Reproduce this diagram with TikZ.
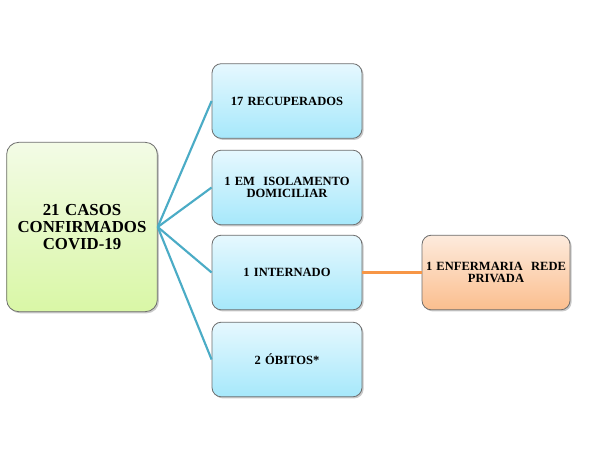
\documentclass[tikz,border=0pt]{standalone}
\usepackage{fontspec}
\setmainfont{Liberation Serif}
\usetikzlibrary{shadows}
\definecolor{bordergray}{HTML}{6E6E6E}
\definecolor{greentop}{HTML}{F3FBE6}
\definecolor{greenbot}{HTML}{D9F7A6}
\definecolor{bluetop}{HTML}{E6F8FE}
\definecolor{bluebot}{HTML}{A6E8FB}
\definecolor{orangetop}{HTML}{FDEBDD}
\definecolor{orangebot}{HTML}{FBBE8E}
\definecolor{tealline}{HTML}{4BACC6}
\definecolor{orangeline}{HTML}{F79646}
\begin{document}
\begin{tikzpicture}[x=0.75pt,y=-0.75pt,
  boxbase/.style={draw=bordergray, line width=0.6pt, rounded corners=7pt, align=center,
    inner sep=1pt,
    drop shadow={shadow xshift=1.2pt, shadow yshift=-1.2pt, opacity=0.35, fill=black!60}},
  mainbox/.style={boxbase, top color=greentop, bottom color=greenbot,
    minimum width=113pt, minimum height=127pt, text width=110pt,
    font=\rmfamily\bfseries\fontsize{12.6}{13}\selectfont, rounded corners=9pt},
  bluebox/.style={boxbase, top color=bluetop, bottom color=bluebot,
    minimum width=112.5pt, minimum height=56pt, text width=108pt,
    font=\rmfamily\bfseries\fontsize{9.4}{9.4}\selectfont},
  orangebox/.style={boxbase, top color=orangetop, bottom color=orangebot,
    minimum width=111pt, minimum height=56pt, text width=108pt,
    font=\rmfamily\bfseries\fontsize{9.4}{9.4}\selectfont},
  tealconn/.style={draw=tealline, line width=1.6pt},
  orangeconn/.style={draw=orangeline, line width=1.6pt}]
\useasboundingbox[fill=white] (0,0) rectangle (591,461);
\node[mainbox] (main) at (82,227) {21 CASOS\\CONFIRMADOS\\COVID-19};
\node[bluebox] (b1) at (287,101) {17 RECUPERADOS};
\node[bluebox] (b2) at (287,187.5) {1 EM\ \ ISOLAMENTO\\DOMICILIAR};
\node[bluebox] (b3) at (287,272.5) {1 INTERNADO};
\node[bluebox] (b4) at (287,359.5) {2 ÓBITOS*};
\node[orangebox] (o1) at (496,272.5) {1 ENFERMARIA\ \ REDE\\PRIVADA};
\draw[tealconn] (main.east) -- (b1.west);
\draw[tealconn] (main.east) -- (b2.west);
\draw[tealconn] (main.east) -- (b3.west);
\draw[tealconn] (main.east) -- (b4.west);
\draw[orangeconn] (b3.east) -- (o1.west);
\end{tikzpicture}
\end{document}
